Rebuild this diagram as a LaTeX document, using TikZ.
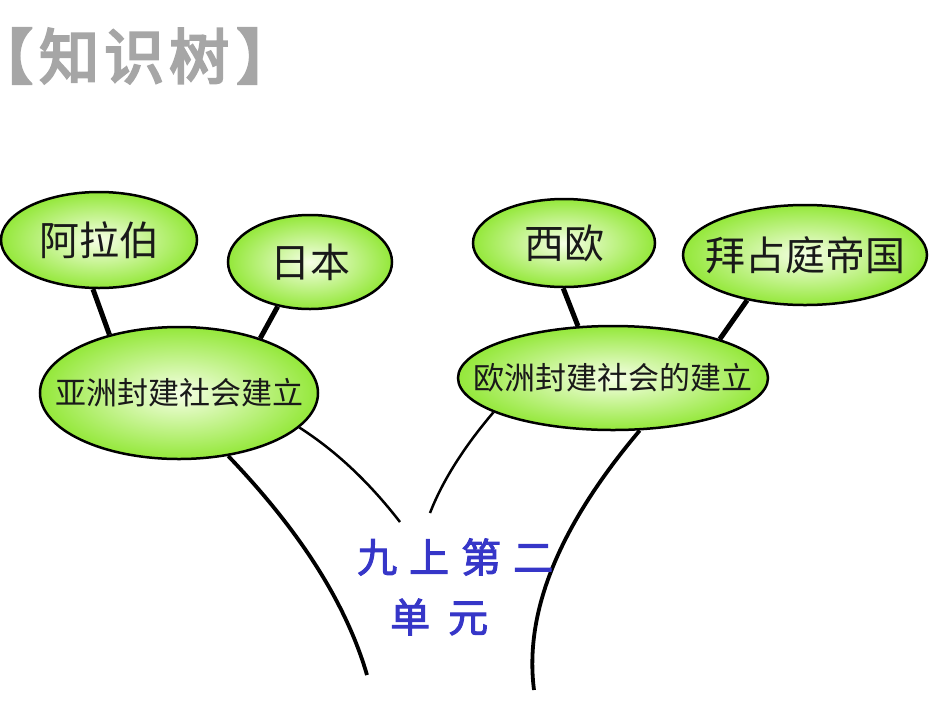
\documentclass[tikz,border=0pt]{standalone}
\usepackage{fontspec}
\usetikzlibrary{shapes.geometric}
\newfontfamily\cjk{Noto Sans CJK SC}
\newfontfamily\cjktitle[FakeBold=4]{Noto Sans CJK SC}
\newfontfamily\cjkunit[FakeBold=2.5]{Noto Sans CJK SC}
\newcommand{\ctext}[1]{\makebox[0pt]{#1}}
\newcommand{\hw}[1]{{\addfontfeature{RawFeature=+halt}#1}}
\definecolor{leafgreen}{HTML}{94E83A}
\definecolor{leafcore}{HTML}{F6FFE6}
\definecolor{unitblue}{HTML}{3636C8}
\definecolor{titlegray}{HTML}{A6A6A6}
\tikzset{
  leafbase/.style={ellipse, draw=black, line width=2.5pt, inner sep=0pt,
    shading=radial, inner color=leafcore, outer color=leafgreen, text=black!90},
  leaf/.style={leafbase, font=\cjk\fontsize{40pt}{44pt}\selectfont},
  trunk/.style={leafbase, font=\cjk\fontsize{31pt}{34pt}\selectfont},
  twig/.style={line width=5pt, black},
  branch/.style={line width=2.5pt, black},
  limb/.style={line width=3.8pt, black},
  unittext/.style={font=\cjkunit\fontsize{40pt}{60pt}\selectfont, text=unitblue, inner sep=0pt}
}
\begin{document}
\begin{tikzpicture}[x=1pt,y=-1pt]
\useasboundingbox (0,0) rectangle (950,713);
% title
\node[anchor=west, inner sep=0pt, text=titlegray, font=\cjktitle\fontsize{60pt}{64pt}\selectfont] (title) at (3,56) {\hw{【}\hspace{6pt}知\hspace{5pt}识\hspace{5pt}树\hspace{7pt}\hw{】}};
% nodes
\node[leaf, minimum width=196pt, minimum height=96pt] (arab) at (99,240) {\ctext{阿拉伯}};
\node[leaf, minimum width=164pt, minimum height=94pt] (japan) at (310,262) {\ctext{日本}};
\node[trunk, minimum width=278pt, minimum height=132pt] (asia) at (179,393) {\ctext{亚洲封建社会建立}};
\node[leaf, minimum width=182pt, minimum height=88pt] (west) at (564,243) {\ctext{西欧}};
\node[leaf, minimum width=244pt, minimum height=100pt] (byz) at (805,255) {\ctext{拜占庭帝国}};
\node[trunk, minimum width=310pt, minimum height=104pt] (europe) at (613,378) {\ctext{欧洲封建社会的建立}};
% thick connectors
\draw[twig] (arab.263) -- (asia.140);
\draw[twig] (japan.234) -- (asia.34);
\draw[twig] (west.269) -- (europe.124);
\draw[twig] (byz.218) -- (europe.20);
% trunk curves
\coordinate (e1) at (400,522);
\coordinate (e2) at (367,675);
\coordinate (e3) at (430,513);
\coordinate (e4) at (534,690);
\draw[branch] (asia.-16) .. controls (336,451) and (369,482) .. (e1);
\draw[limb] (asia.-52) .. controls (300,531) and (346,603) .. (e2);
\draw[branch] (europe.196) .. controls (463,448) and (442,482) .. (e3);
\draw[limb] (europe.-63) .. controls (559,526) and (524,612) .. (e4);
% unit label
\node[unittext, anchor=west] (unit1) at (357,557) {九\hspace{12pt}上\hspace{12pt}第\hspace{12pt}二};
\node[unittext, anchor=west] (unit2) at (390,617) {单\hspace{18pt}元};
\end{tikzpicture}
\end{document}
